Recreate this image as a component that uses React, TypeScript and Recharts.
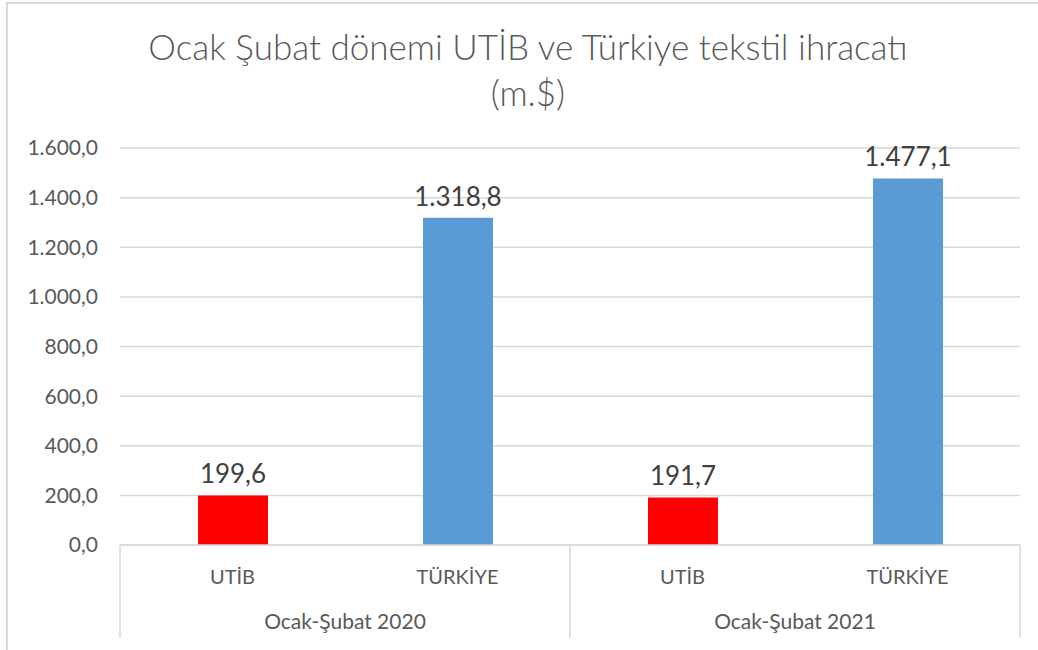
import { Bar, BarChart, CartesianGrid, Cell, LabelList, XAxis, YAxis } from 'recharts'

const categories = ['UTİB', 'TÜRKİYE', 'UTİB', 'TÜRKİYE']
const periods = ['Ocak-Şubat 2020', 'Ocak-Şubat 2020', 'Ocak-Şubat 2021', 'Ocak-Şubat 2021']
const values = [199.6, 1318.8, 191.7, 1477.1]
const barColors = ['#ff0000', '#5b9bd5', '#ff0000', '#5b9bd5']
const yTicks = [0, 200, 400, 600, 800, 1000, 1200, 1400, 1600]

const data = categories.map((c, i) => ({ cat: c, period: periods[i], value: values[i] }))

const FONT = 'Lato, "Open Sans", sans-serif'
const GRID = '#d9d9d9'
const BAND = 900 / categories.length

// 1.318,8 style
function fmt(v: number) {
  const [int, dec] = v.toFixed(1).split('.')
  return int.replace(/\B(?=(\d{3})+(?!\d))/g, '.') + ',' + dec
}

function CategoryTick(props: any) {
  const { x, y, payload, index } = props
  const d = data[index]
  const lines: number[] = []
  if (index === 0) lines.push(x - BAND / 2)
  if (index === 1 || index === 3) lines.push(x + BAND / 2)
  return (
    <g>
      {lines.map((lx) => (
        <line key={lx} x1={lx} x2={lx} y1={y} y2={y + 93} stroke={GRID} strokeWidth={1.5} />
      ))}
      <text x={x} y={y + 39} textAnchor="middle" fontSize={20} fill="#595959" fontFamily={FONT}>
        {payload.value}
      </text>
      {(index === 1 || index === 3) && (
        <text x={x - BAND / 2} y={y + 84} textAnchor="middle" fontSize={21} fill="#595959" fontFamily={FONT}>
          {d.period}
        </text>
      )}
    </g>
  )
}

export default function App() {
  return (
    <div style={{ position: 'absolute', left: 0, top: 0, width: 1038, height: 650, overflow: 'hidden', background: '#fff' }}>
      <div
        style={{
          position: 'absolute', left: 6, top: 2, width: 1100, height: 700,
          borderLeft: `2px solid ${GRID}`, borderTop: `2px solid ${GRID}`,
        }}
      />
      <div
        style={{
          position: 'absolute', left: 0, top: 23, width: 1056, textAlign: 'center',
          fontFamily: FONT, fontSize: 35, fontWeight: 300, lineHeight: '46px', color: '#595959',
        }}
      >
        Ocak Şubat dönemi UTİB ve Türkiye tekstil ihracatı
        <br />
        (m.$)
      </div>
      <div style={{ position: 'absolute', left: 0, top: 0 }}>
        <BarChart
          width={1038}
          height={650}
          data={data}
          margin={{ top: 148, right: 18, bottom: 0, left: 0 }}
        >
          <CartesianGrid vertical={false} stroke={GRID} strokeWidth={1.5} />
          <XAxis
            dataKey="cat"
            height={105}
            axisLine={{ stroke: GRID, strokeWidth: 1.5 }}
            tickLine={false}
            tickSize={0}
            tickMargin={0}
            interval={0}
            tick={<CategoryTick />}
          />
          <YAxis
            width={120}
            domain={[0, 1600]}
            ticks={yTicks}
            axisLine={false}
            tickLine={false}
            tickSize={0}
            tickMargin={22}
            tickFormatter={fmt}
            tick={{ fontSize: 21, fill: '#595959', fontFamily: FONT }}
          />
          <Bar dataKey="value" barSize={70} isAnimationActive={false}>
            {data.map((d, i) => (
              <Cell key={i} fill={barColors[i]} />
            ))}
            <LabelList
              dataKey="value"
              position="top"
              offset={12}
              formatter={(v: any) => fmt(Number(v))}
              style={{ fontSize: 26, fill: '#404040', fontFamily: FONT }}
            />
          </Bar>
        </BarChart>
      </div>
    </div>
  )
}
